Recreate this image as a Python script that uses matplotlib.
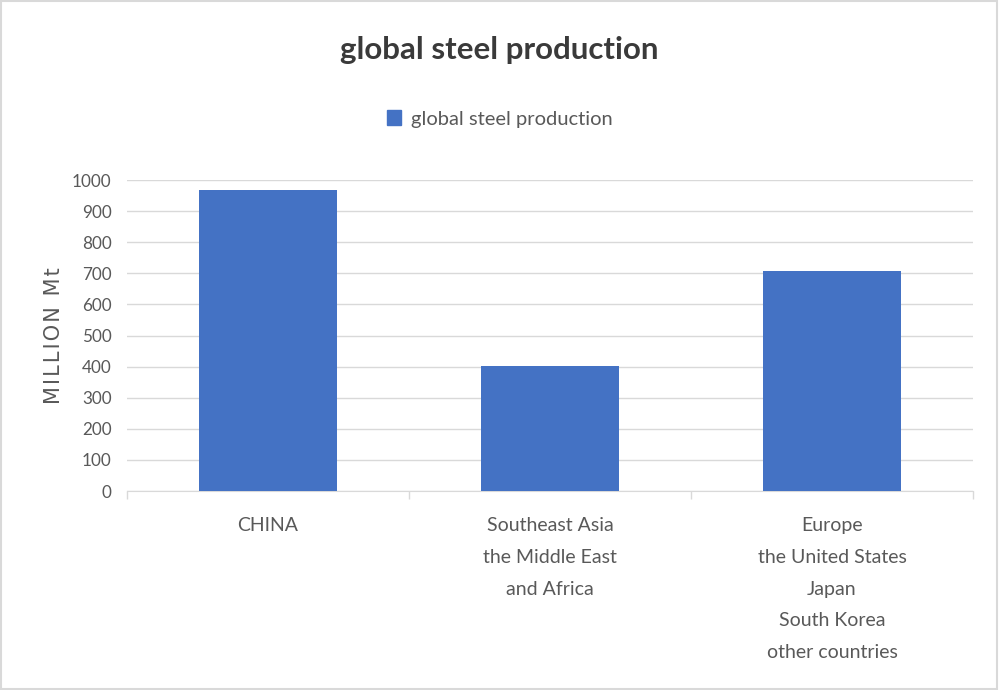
import matplotlib
matplotlib.use("Agg")
import matplotlib.pyplot as plt
from matplotlib.patches import Rectangle, Patch

categories = ["CHINA",
              "Southeast Asia\nthe Middle East\nand Africa",
              "Europe\nthe United States\nJapan\nSouth Korea\nother countries"]
values = [968, 403, 707]
series_name = "global steel production"
yticks = list(range(0, 1001, 100))
ylabel = "MILLION Mt"

plt.rcParams['font.family'] = ['Lato', 'DejaVu Sans']
txt = "#595959"

fig = plt.figure(figsize=(9.99, 6.9), dpi=100)
ax = fig.add_axes([0.127, 0.2884, 0.847, 0.4507])

x = range(len(categories))
ax.bar(x, values, width=0.49, color="#4472C4", zorder=3, label=series_name)
ax.set_xlim(-0.5, 2.5)
ax.set_ylim(0, 1000)
ax.set_yticks(yticks)
ax.tick_params(axis='y', length=0, pad=11, labelsize=12.3, labelcolor=txt)
ax.set_xticks(list(x))
ax.set_xticklabels(categories, linespacing=2.04)
ax.set_xticks([-0.5, 0.5, 1.5, 2.5], minor=True)
ax.tick_params(axis='x', which='major', length=0, pad=19, labelsize=14, labelcolor=txt)
ax.tick_params(axis='x', which='minor', length=6, color="#d9d9d9", width=1)
ax.grid(axis='y', color="#d9d9d9", linewidth=1, zorder=0)
for s in ['top', 'right', 'left']:
    ax.spines[s].set_visible(False)
ax.spines['bottom'].set_color("#d9d9d9")
spaced = "\u200a".join(ylabel)
ax.set_ylabel(spaced, fontsize=15, color=txt, labelpad=6, family=['DejaVu Sans'])

fig.text(0.5, 1 - 50/690, "global steel production", ha='center', va='center',
         fontsize=22.5, fontweight='bold', color="#3a3a3a")
leg = fig.legend(handles=[Patch(color="#4472C4", label=series_name)],
                 loc='center', bbox_to_anchor=(0.5, 1 - 119/690), frameon=False,
                 fontsize=14.5, handlelength=0.7, handleheight=0.7, handletextpad=0.5)
for t in leg.get_texts():
    t.set_color(txt)

fig.add_artist(Rectangle((0.001, 0.001), 0.997, 0.997, transform=fig.transFigure,
                         fill=False, edgecolor="#d9d9d9", linewidth=1.5))
fig.savefig("out.png", dpi=100)
